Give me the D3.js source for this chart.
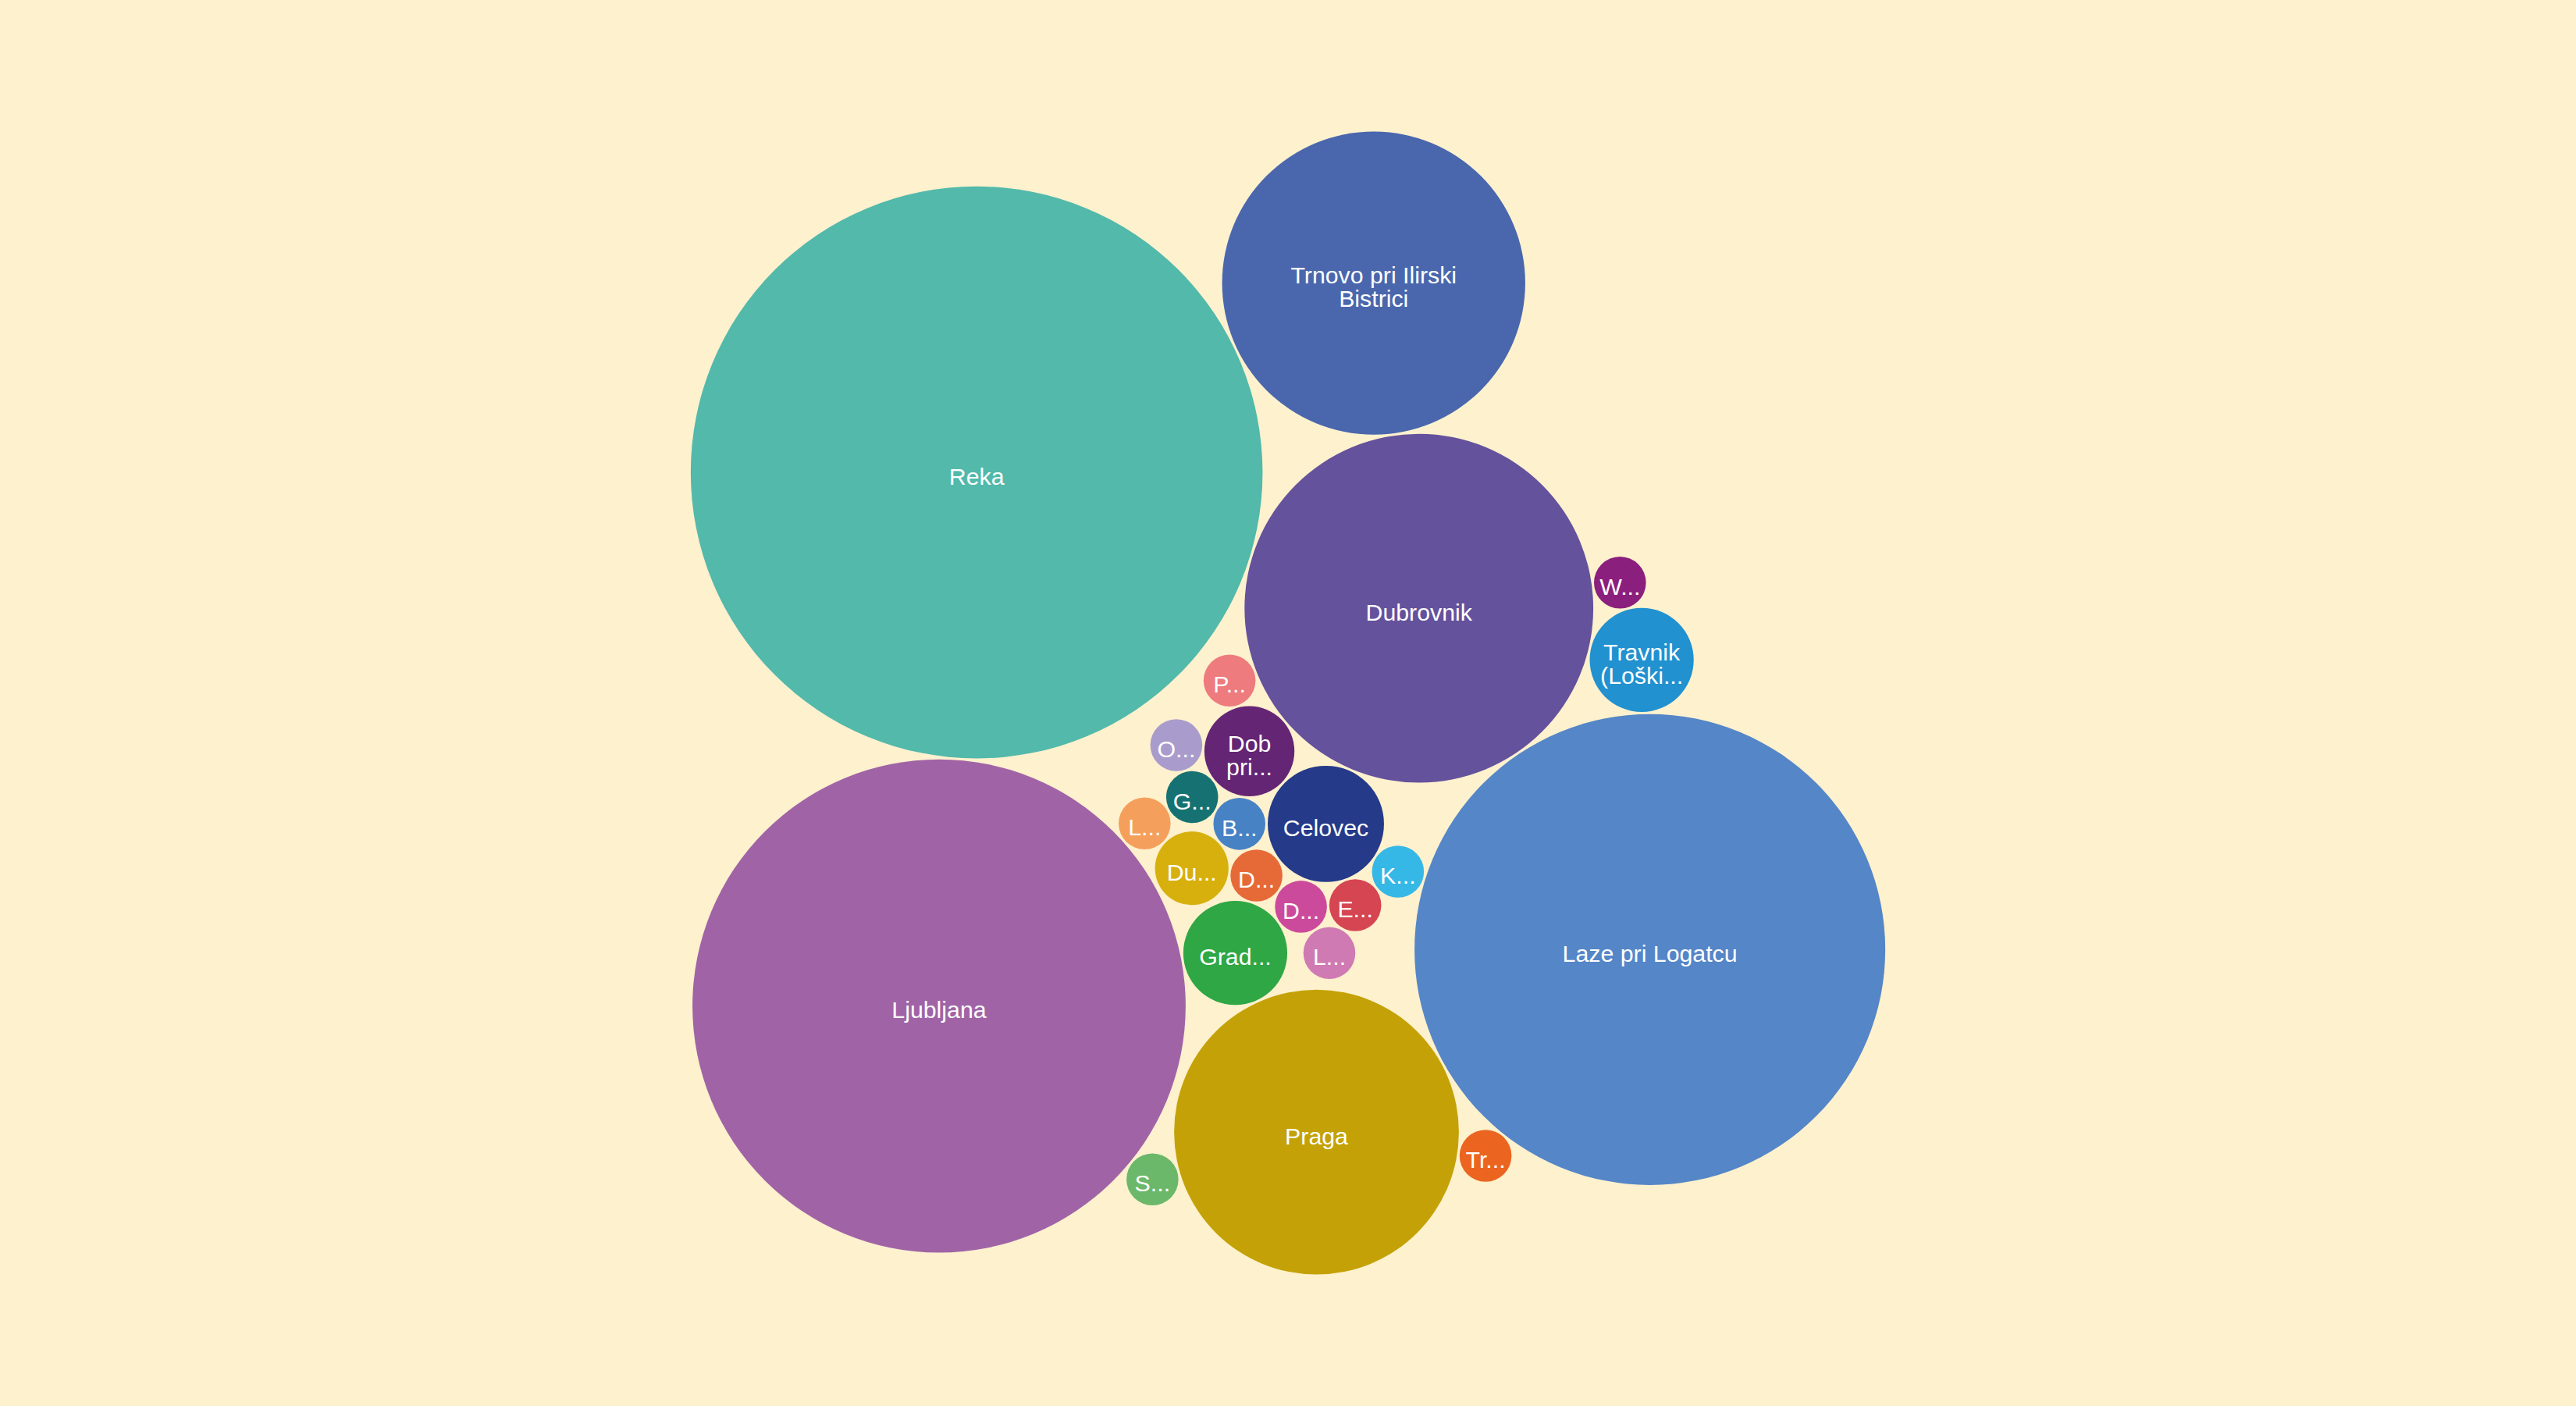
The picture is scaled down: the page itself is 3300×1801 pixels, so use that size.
<!DOCTYPE html>
<html><head><meta charset="utf-8">
<script src="https://cdn.jsdelivr.net/npm/d3@7"></script>
<style>html,body{margin:0;padding:0;background:#fef1ce;} svg{display:block}</style>
</head><body>
<svg id="chart" width="3300" height="1801"></svg>
<script>
// Data (alphabetical order, as in the source layout)
const categories = ["B...", "Celovec", "D...", "Dob\npri...", "D...", "Dubrovnik", "Du...", "E...", "G...", "Grad...", "K...", "Laze pri Logatcu", "L...", "Ljubljana", "L...", "O...", "Praga", "P...", "Reka", "S...", "Travnik\n(Loški...", "Trnovo pri Ilirski\nBistrici", "Tr...", "W..."];
const values = [1, 5, 1, 3, 1, 45, 2, 1, 1, 4, 1, 82, 1, 90, 1, 1, 30, 1, 121, 1, 4, 34, 1, 1];
const colors = ["#4782c5", "#253a89", "#e66a37", "#632574", "#cc4a9b", "#64529c", "#d8b00e", "#d54552", "#167272", "#2ea744", "#35b8e6", "#5586c7", "#f4a05c", "#a064a6", "#d07ab3", "#a99ccc", "#c4a207", "#ee7b7d", "#52b9ab", "#6bb86b", "#2191d0", "#4a67ad", "#eb6520", "#8b1f7d"];

const W = 3300, H = 1801;
const PAD = 3;
const unitRadius = 33.3;

const rScale = d3.scaleSqrt().domain([0, d3.max(values)]).range([0, unitRadius * Math.sqrt(d3.max(values))]);

const nodes = values.map((v, i) => ({i, v, name: categories[i], color: colors[i], r: rScale(v) + PAD / 2}));
d3.packSiblings(nodes);
nodes.forEach(n => n.r -= PAD / 2);

const x0 = d3.min(nodes, n => n.x - n.r), x1 = d3.max(nodes, n => n.x + n.r);
const y0 = d3.min(nodes, n => n.y - n.r), y1 = d3.max(nodes, n => n.y + n.r);
const tx = W / 2 - (x0 + x1) / 2, ty = H / 2 - (y0 + y1) / 2;

const svg = d3.select("#chart");
svg.append("rect").attr("width", W).attr("height", H).attr("fill", "#fef1ce");

const g = svg.append("g").attr("transform", `translate(${tx},${ty})`);
const node = g.selectAll("g.node").data(nodes).join("g")
  .attr("class", "node")
  .attr("transform", d => `translate(${d.x},${d.y})`);

node.append("circle")
  .attr("r", d => d.r)
  .attr("fill", d => d.color);

const fontSize = 30.3, lineH = 30.5, textShift = 5;
node.append("text")
  .attr("text-anchor", "middle")
  .attr("fill", "#ffffff")
  .style("font-family", "'Liberation Sans', Arial, Helvetica, sans-serif")
  .style("font-size", fontSize + "px")
  .selectAll("tspan")
  .data(d => { const lines = d.name.split("\n"); return lines.map((t, j) => ({t, j, n: lines.length})); })
  .join("tspan")
  .attr("x", 0)
  .attr("y", d => (d.j - (d.n - 1) / 2) * lineH + textShift)
  .attr("dy", "0.35em")
  .text(d => d.t);
</script>
</body></html>
